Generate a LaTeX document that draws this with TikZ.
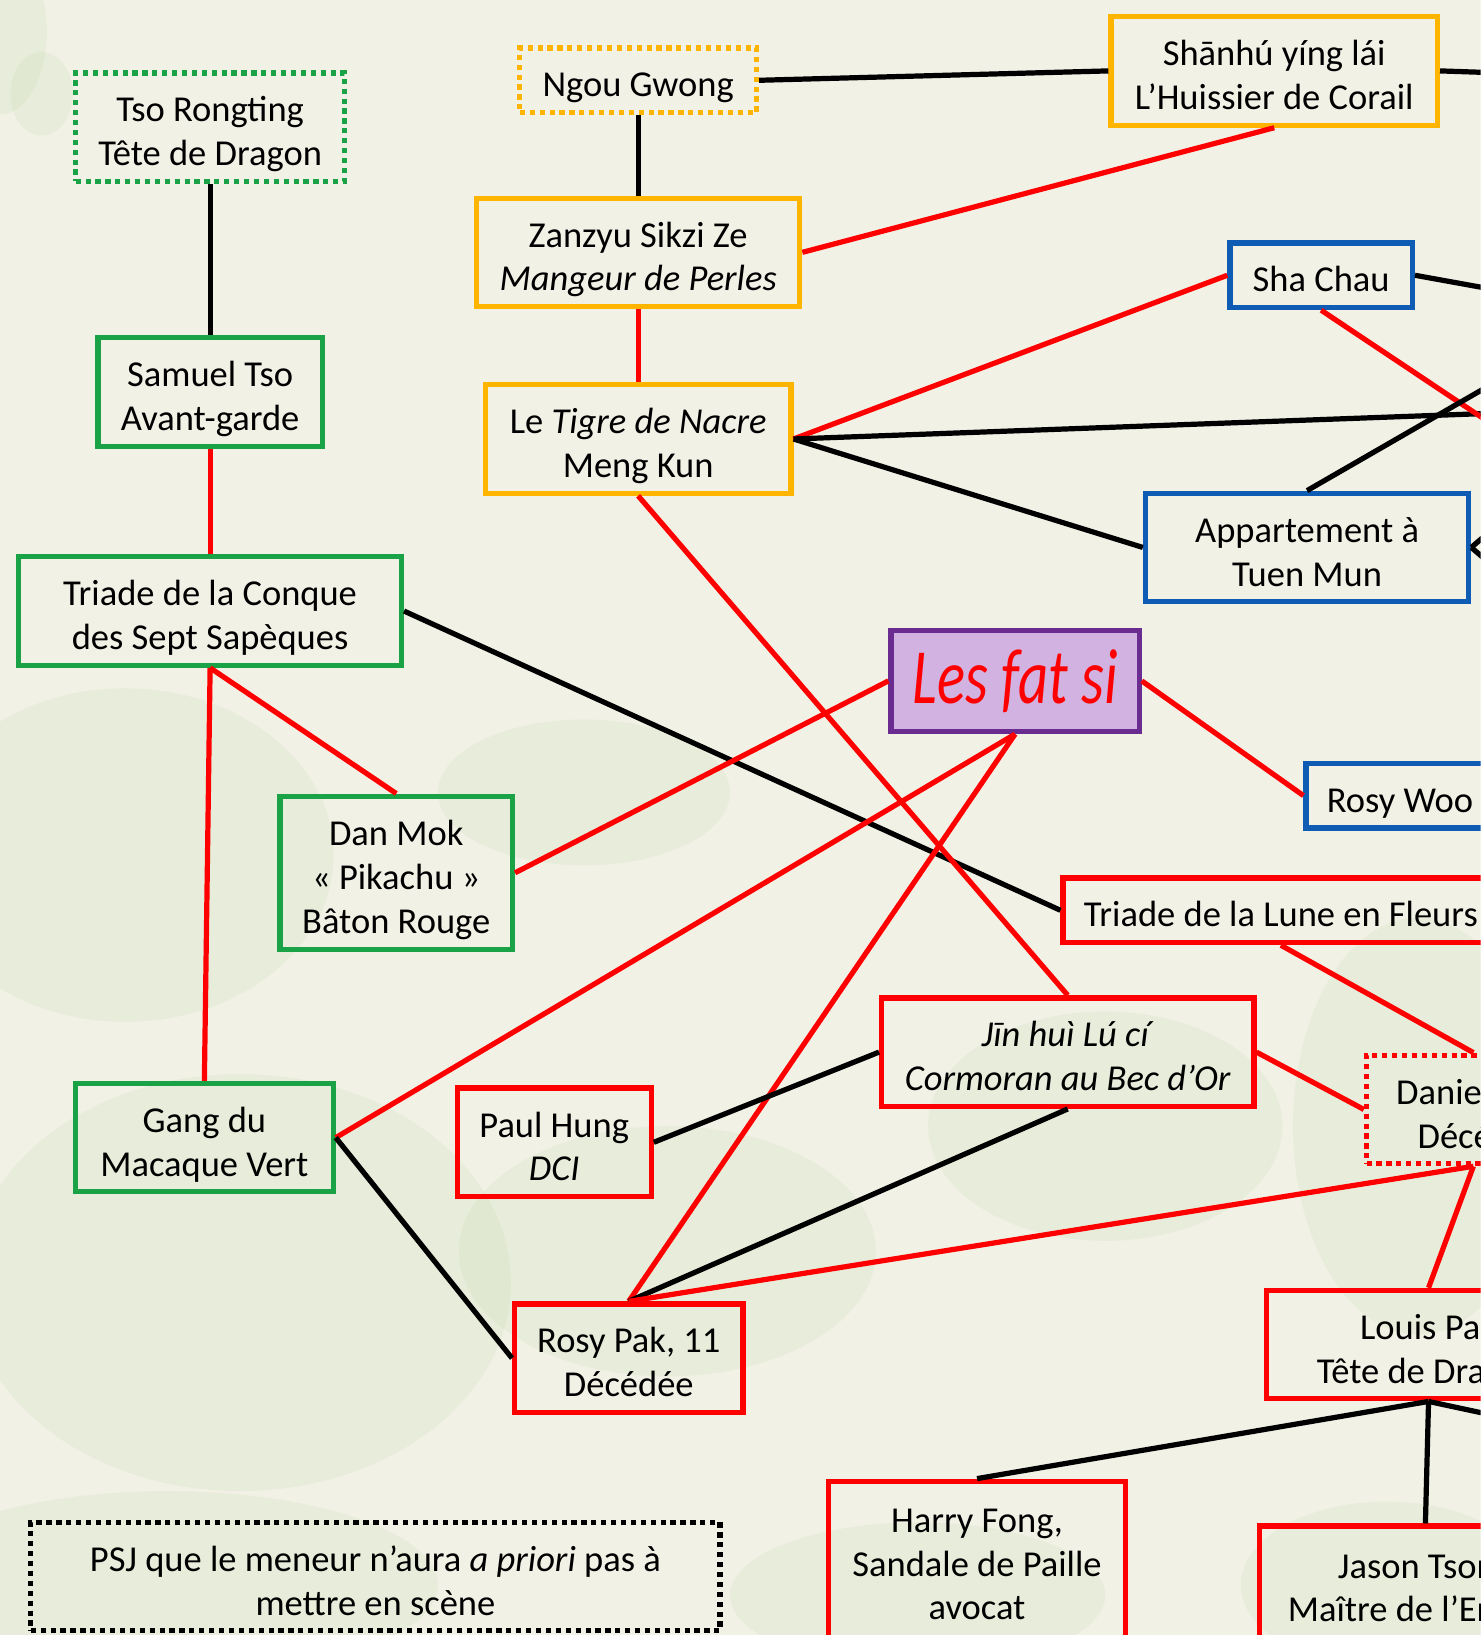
\documentclass[tikz,border=0pt]{standalone}
\usepackage{fontspec}
\usepackage{graphicx}
\setmainfont{Carlito}
\usetikzlibrary{positioning}

\definecolor{cream}{RGB}{242,241,230}
\definecolor{moss}{RGB}{200,222,178}
\definecolor{gangreen}{RGB}{26,163,70}
\definecolor{triorange}{RGB}{255,180,0}
\definecolor{placeblue}{RGB}{14,92,180}
\definecolor{deadred}{RGB}{255,0,0}
\definecolor{fatborder}{RGB}{106,44,145}
\definecolor{fatfill}{RGB}{210,178,224}

\tikzset{
  box/.style={draw, line width=5pt, align=center, inner xsep=20pt, inner ysep=6pt,
    font=\fontsize{35}{42}\selectfont, text=black,
    execute at begin node={\rule{0pt}{41pt}},
    execute at end node={\rule[-9pt]{0pt}{0pt}}},
  two/.style={execute at begin node={\rule{0pt}{83pt}}},
  three/.style={execute at begin node={\rule{0pt}{125pt}}},
  greenbox/.style={box, draw=gangreen},
  orangebox/.style={box, draw=triorange},
  bluebox/.style={box, draw=placeblue},
  redbox/.style={box, draw=deadred},
  dotbox/.style={dash pattern=on 5pt off 4.5pt},
  tie/.style={line width=5pt, black},
  feud/.style={line width=5pt, deadred},
}

\begin{document}
\begin{tikzpicture}[x=1pt, y=-1pt]
\useasboundingbox (0,0) rectangle (1420,1568);
\clip (0,0) rectangle (1420,1568);
\fill[cream] (0,0) rectangle (1420,1568);
% watercolour stains
\begin{scope}[fill=moss, fill opacity=0.22]
  \fill (0,30) ellipse (45 and 80);
  \fill (40,90) ellipse (30 and 40);
  \fill (120,820) ellipse (200 and 160);
  \fill (230,1230) ellipse (260 and 200);
  \fill (160,1520) ellipse (260 and 90);
  \fill (640,1200) ellipse (200 and 120);
  \fill (1060,1080) ellipse (170 and 110);
  \fill (1360,1080) ellipse (120 and 200);
  \fill (1330,1520) ellipse (140 and 80);
  \fill (880,1530) ellipse (180 and 70);
  \fill (560,760) ellipse (140 and 70);
\end{scope}

% green: Conque des Sept Sapeques
\node[greenbox, two, dotbox, minimum width=258pt, minimum height=103pt] (tso) at (201.5,122) {Tso Rongting\\Tête de Dragon};
\node[greenbox, two, minimum width=215pt, minimum height=104pt, below=145pt of tso] (samuel) {Samuel Tso\\Avant-garde};
\node[greenbox, two, minimum width=367pt, minimum height=104pt, below=101pt of samuel] (conque) {Triade de la Conque\\des Sept Sapèques};
\node[greenbox, three, minimum width=223pt, minimum height=147pt] (danmok) at (380,837) {Dan Mok\\« Pikachu »\\Bâton Rouge};
\node[greenbox, two, minimum width=247pt, minimum height=103pt] (macaque) at (196,1091) {Gang du\\Macaque Vert};

% orange
\node[orangebox, dotbox, minimum width=227pt, minimum height=61pt] (ngou) at (612,77) {Ngou Gwong};
\node[orangebox, two, minimum width=313pt, minimum height=103pt] (shanhu) at (1222,68) {Shānhú yíng lái\\L’Huissier de Corail};
\node[orangebox, two, minimum width=310pt, minimum height=103pt, below=77pt of ngou] (zanzyu) {Zanzyu Sikzi Ze\\\textit{Mangeur de Perles}};
\node[orangebox, two, minimum width=293pt, minimum height=103pt, below=70pt of zanzyu] (tigre) {Le \textit{Tigre de Nacre}\\Meng Kun};

% blue
\node[bluebox, minimum width=175pt, minimum height=61pt] (shachau) at (1267,264) {Sha Chau};
\node[bluebox, two, minimum width=310pt, minimum height=103pt] (appart) at (1253.5,525) {Appartement à\\Tuen Mun};
\node[bluebox, minimum height=61pt, anchor=west] (rosywoo) at (1250,763) {Rosy Woo};

% centre
\node[draw=fatborder, fill=fatfill, line width=5pt, minimum width=238pt, minimum height=97pt,
  text=deadred, font=\fontsize{75}{75}\selectfont\itshape] (fatsi) at (973.5,653) {\scalebox{0.75}[1]{Les fat si}};

% red: Lune en Fleurs
\node[redbox, minimum height=61pt, anchor=west] (lune) at (1017,873) {Triade de la Lune en Fleurs};
\node[redbox, two, minimum width=357pt, minimum height=103pt] (jinhui) at (1024,1009) {\textit{Jīn huì Lú cí}\\\textit{Cormoran au Bec d’Or}};
\node[redbox, two, dotbox, minimum width=205pt, minimum height=103pt, anchor=west] (daniel) at (1308,1064) {Daniel Pak\\Décédé};
\node[redbox, two, minimum width=186pt, minimum height=104pt] (paulhung) at (531.5,1095.5) {Paul Hung\\\textit{DCI}};
\node[redbox, two, minimum width=219pt, minimum height=104pt] (rosypak) at (603,1302.5) {Rosy Pak, 11\\Décédée};
\node[redbox, two, minimum width=311pt, minimum height=104pt, anchor=west] (louis) at (1212,1289.5) {Louis Pak\\Tête de Dragon};
\node[redbox, three, minimum width=285pt, minimum height=150pt, anchor=north] (harry) at (937,1418) {Harry Fong,\\Sandale de Paille\\avocat};
\node[redbox, two, minimum width=319pt, minimum height=110pt, anchor=north west] (jason) at (1205,1461) {Jason Tsong\\Maître de l’Encens};

% legend
\node[box, two, draw=black, dotbox, minimum width=661pt, minimum height=95pt] (psj) at (360,1512) {PSJ que le meneur n’aura \textit{a priori} pas à\\mettre en scène};

% loose ends past the right edge
\coordinate (offA) at (1440,70);
\coordinate (offB) at (1440,279);
\coordinate (offC) at (1440,413);
\coordinate (offD) at (1440,396);
\coordinate (offE) at (1440,363);
\coordinate (offF) at (1440,500);
\coordinate (offG) at (1440,550);
\coordinate (offH) at (1440,1359);

% links
\draw[tie] (tso.south) -- (samuel.north);
\draw[feud] (samuel.south) -- (conque.north);
\draw[feud] (conque.south) -- (danmok.north);
\draw[feud] (conque.south) -- (macaque.north);
\draw[tie] (conque.east) -- (lune.west);
\draw[tie] (ngou.east) -- (shanhu.west);
\draw[tie] (shanhu.east) -- (offA);
\draw[tie] (ngou.south) -- (zanzyu.north);
\draw[feud] (shanhu.south) -- (zanzyu.east);
\draw[feud] (zanzyu.south) -- (tigre.north);
\draw[feud] (tigre.east) -- (shachau.west);
\draw[tie] (tigre.east) -- (offD);
\draw[tie] (tigre.east) -- (appart.west);
\draw[feud] (tigre.south) -- (jinhui.north);
\draw[tie] (shachau.east) -- (offB);
\draw[feud] (shachau.south) -- (offC);
\draw[tie] (appart.north) -- (offE);
\draw[tie] (appart.east) -- (offF);
\draw[tie] (appart.east) -- (offG);
\draw[feud] (fatsi.west) -- (danmok.east);
\draw[feud] (fatsi.south) -- (macaque.east);
\draw[feud] (fatsi.south) -- (rosypak.north);
\draw[feud] (fatsi.east) -- (rosywoo.west);
\draw[feud] (lune.south) -- (daniel.north);
\draw[feud] (jinhui.east) -- (daniel.west);
\draw[tie] (jinhui.west) -- (paulhung.east);
\draw[tie] (jinhui.south) -- (rosypak.north);
\draw[feud] (rosypak.north) -- (daniel.south);
\draw[feud] (daniel.south) -- (louis.north);
\draw[tie] (macaque.east) -- (rosypak.west);
\draw[tie] (louis.south) -- (harry.north);
\draw[tie] (louis.south) -- (jason.north);
\draw[tie] (louis.south) -- (offH);
\end{tikzpicture}
\end{document}
